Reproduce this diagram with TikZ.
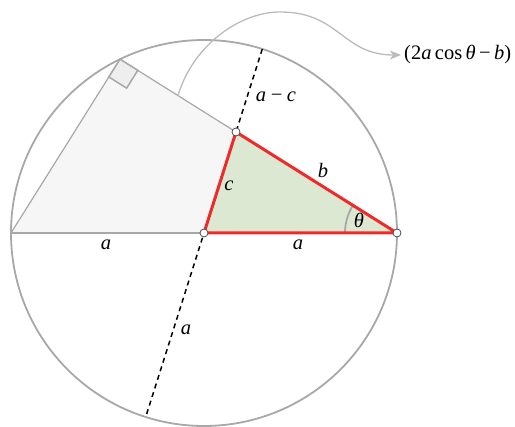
\documentclass[tikz,border=0pt]{standalone}
\usepackage{fontspec}
\setmainfont{Liberation Serif}
\usetikzlibrary{arrows.meta,calc}
\definecolor{circgray}{HTML}{A8A8A8}
\definecolor{lightfill}{HTML}{F6F6F6}
\definecolor{sqfill}{HTML}{EEEEEE}
\definecolor{greenfill}{HTML}{DCE8D1}
\definecolor{redline}{HTML}{EE2A2A}
\definecolor{curvegray}{HTML}{BBBBBB}
\begin{document}
\begin{tikzpicture}[x=1pt,y=1pt,
  lbl/.style={font=\fontsize{20.5}{24}\selectfont\itshape, inner sep=1pt},
  plainlbl/.style={font=\fontsize{20.5}{24}\selectfont, inner sep=3pt},
  dot/.style={circle,draw=black!70,fill=white,inner sep=0pt,minimum size=8pt,line width=0.8pt},
  thin gray/.style={draw=circgray,line width=1.2pt},
  red edge/.style={draw=redline,line width=3pt,line join=round,line cap=round},
  dash line/.style={draw=black,line width=1.5pt,dash pattern=on 5pt off 4pt},
  curve/.style={draw=curvegray,line width=1.3pt,-{Stealth[length=11pt,width=9pt,inset=3pt]}}
]
\useasboundingbox (-204,-194) rectangle (311,233);
\coordinate (O) at (0,0);
\coordinate (R) at (193,0);
\coordinate (L) at (-193,0);
\coordinate (P) at (32,101);
\coordinate (Q) at (-84,173.8);
\coordinate (T) at (58.3,184.0);
\coordinate (B) at (-58.3,-184.0);
\coordinate (S) at ($(Q)!0.5!(P)$);
% gray region
\fill[lightfill] (L) -- (Q) -- (P) -- (O) -- cycle;
\draw[thin gray] (L) -- (Q) -- (P);
\draw[thin gray] (L) -- (O);
% right angle square
\coordinate (Q1) at ($(Q)!21pt!(L)$);
\coordinate (Q2) at ($(Q)!21pt!(R)$);
\coordinate (Q3) at ($(Q1)+(Q2)-(Q)$);
\filldraw[fill=sqfill,draw=circgray,line width=1.5pt] (Q) -- (Q1) -- (Q3) -- (Q2) -- cycle;
% circle
\draw[draw=circgray,line width=1.8pt] (O) circle[radius=193];
% green triangle
\fill[greenfill] (O) -- (P) -- (R) -- cycle;
% dashed diameter
\draw[dash line] (T) -- (B);
% angle arc
\draw[draw=circgray,line width=1.8pt] (R) ++(180:52) arc[start angle=180,end angle=147.9,radius=52];
% red triangle
\draw[red edge] (O) -- (P) -- (R) -- cycle;
% dots
\node[dot] (dO) at (O) {};
\node[dot] (dP) at (P) {};
\node[dot] (dR) at (R) {};
% labels
\node[lbl] (la1) at (-98,-12) {a};
\node[lbl] (la2) at (94,-12) {a};
\node[lbl] (lc) at (25,47) {c};
\node[lbl] (lb) at (119,63) {b};
\node[lbl] (lac) at (72,136) {a\,−\,c};
\node[lbl] (la3) at (-18,-97) {a};
\node[lbl] (lth) at (155,13) {θ};
% expression and curved arrow
\node[plainlbl,anchor=west] (E) at (197,178) {(2\textit{a}\,cos\,\textit{θ}\,−\,\textit{b})};
\draw[curve] (S) .. controls (-11,188) and (36,221) .. (76,221) .. controls (136,221) and (138,178) .. (E.west);
\end{tikzpicture}
\end{document}
